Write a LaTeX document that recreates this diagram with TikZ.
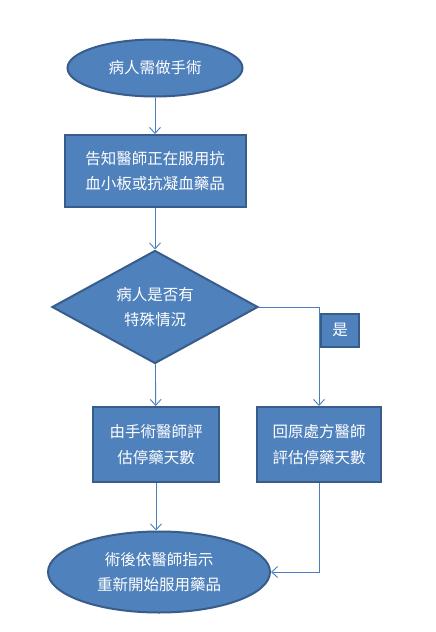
\documentclass[tikz,border=0pt]{standalone}
\usepackage{fontspec}
\setmainfont{Noto Sans CJK TC}
\usetikzlibrary{shapes.geometric,arrows.meta}
\definecolor{fillblue}{HTML}{4F81BD}
\definecolor{edgeblue}{HTML}{385D8A}
\definecolor{lineblue}{HTML}{4A7EBB}
\begin{document}
\begin{tikzpicture}[x=1pt,y=-1pt,
  shapebase/.style={fill=fillblue, draw=edgeblue, line width=2pt, text=white,
    font=\fontsize{15.5}{25.5}\selectfont, align=center, inner sep=0pt},
  term/.style={shapebase, ellipse},
  procbox/.style={shapebase, rectangle},
  decis/.style={shapebase, diamond, aspect=1.82},
  conn/.style={draw=lineblue, line width=0.9pt, -{Straight Barb[length=6pt,width=11pt]}}]
\useasboundingbox[fill=white] (0,0) rectangle (436,632);
\node[term, minimum width=175pt, minimum height=57pt] (start) at (155,68) {病人需做手術};
\node[procbox, minimum width=181pt, minimum height=72pt] (tell) at (155,171) {告知醫師正在服用抗\\血小板或抗凝血藥品};
\node[decis, minimum width=206pt, minimum height=113pt] (dec) at (155,307) {病人是否有\\特殊情況};
\node[procbox, minimum width=38pt, minimum height=33pt] (yes) at (340,330) {是};
\node[procbox, minimum width=126pt, minimum height=75pt] (surg) at (156,444.5) {由手術醫師評\\估停藥天數};
\node[procbox, minimum width=124pt, minimum height=75pt] (orig) at (319,444.5) {回原處方醫師\\評估停藥天數};
\node[term, minimum width=222pt, minimum height=81pt] (end) at (159,572) {術後依醫師指示\\重新開始服用藥品};
\draw[conn] (start) -- (tell);
\draw[conn] (tell) -- (dec);
\draw[conn] (dec) -- (surg);
\draw[conn] (dec.east) -| (orig.north);
\draw[conn] (surg.south) -- (surg.south |- end.north);
\draw[conn] (orig.south) |- (end.east);
\end{tikzpicture}
\end{document}
